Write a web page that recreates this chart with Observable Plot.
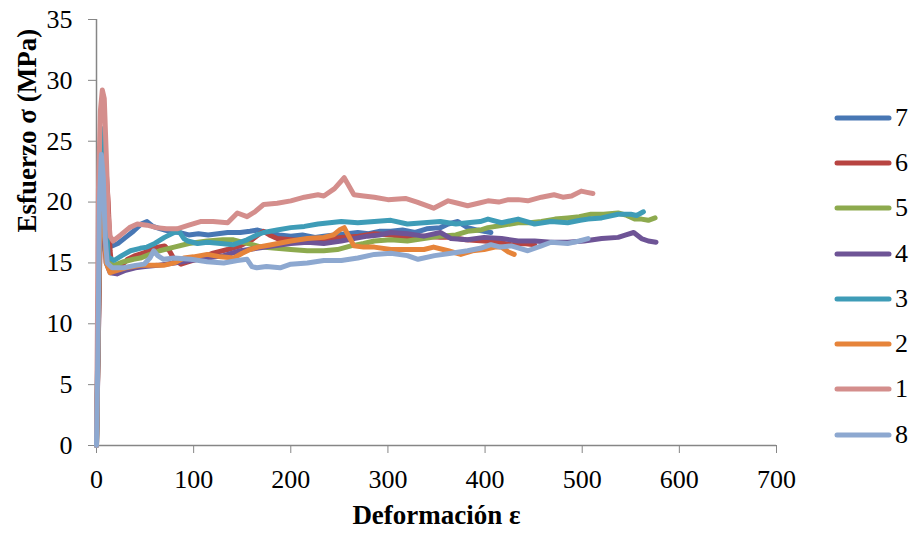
<!DOCTYPE html>
<html>
<head>
<meta charset="utf-8">
<script src="https://cdn.jsdelivr.net/npm/d3@7"></script>
<script src="https://cdn.jsdelivr.net/npm/@observablehq/plot@0.6"></script>
<style>
  html, body { margin: 0; padding: 0; background: #fff; }
  #wrap { position: relative; width: 911px; height: 533px; font-family: "Liberation Serif", "Times New Roman", serif; }
  #legend { position: absolute; left: 834px; top: 95px; }
  .row { display: flex; align-items: center; height: 45.3px; }
  .row span { font-size: 26px; line-height: 26px; margin-left: 3px; color: #000; }
</style>
</head>
<body>
<div id="wrap"><div id="legend"></div></div>
<script>
// ---- data ----
const seriesNames = ["7", "6", "5", "4", "3", "2", "1", "8"];
const seriesColors = ["#4877B4", "#B84441", "#8DAA4E", "#6E5496", "#3E9CB7", "#E6843A", "#D48E8C", "#8DA8D0"];
const xTicks = [0, 100, 200, 300, 400, 500, 600, 700];
const yTicks = [0, 5, 10, 15, 20, 25, 30, 35];
const xTitle = "Deformación ε";
const yTitle = "Esfuerzo σ (MPa)";

const x7 = [0, 2, 4, 6, 9, 12, 16, 22, 30, 38, 46, 52, 58, 66, 75, 85, 95, 105, 115, 125, 135, 148, 158, 166, 175, 188, 200, 212, 225, 234, 245, 258, 269, 280, 292, 303, 315, 328, 340, 354, 362, 372, 382, 392, 399, 406];
const y7 = [0, 12, 22, 26, 21, 17.5, 16.4, 16.6, 17.1, 17.6, 18.2, 18.4, 18.0, 17.8, 17.6, 17.5, 17.3, 17.4, 17.3, 17.4, 17.5, 17.5, 17.6, 17.7, 17.5, 17.3, 17.2, 17.3, 17.1, 17.2, 17.3, 17.4, 17.5, 17.4, 17.6, 17.6, 17.7, 17.5, 17.8, 17.9, 18.2, 18.4, 17.9, 17.7, 17.6, 17.5];

const x6 = [0, 3, 6, 9, 12, 14, 16, 20, 26, 32, 40, 48, 56, 63, 70, 75, 80, 87, 95, 107, 120, 135, 148, 160, 168, 172, 178, 186, 200, 217, 234, 252, 270, 286, 303, 320, 337, 354, 365, 380, 399, 413, 427, 440, 451];
const y6 = [0, 14, 23.5, 23.8, 20, 16, 14.4, 14.3, 14.8, 15.3, 15.6, 15.8, 16.1, 16.3, 16.4, 16.0, 15.3, 14.9, 15.1, 15.4, 15.8, 16.1, 16.4, 16.9, 17.4, 17.6, 17.3, 17.0, 16.9, 16.8, 16.9, 17.1, 17.2, 17.4, 17.3, 17.1, 17.2, 17.1, 17.1, 16.9, 16.8, 16.7, 16.5, 16.6, 16.5];

const x5 = [0, 2, 4, 6, 9, 12, 18, 28, 38, 45, 55, 65, 80, 95, 114, 130, 141, 155, 170, 185, 200, 217, 234, 248, 262, 275, 286, 303, 320, 337, 354, 370, 382, 395, 403, 418, 434, 446, 458, 472, 485, 497, 509, 522, 537, 546, 554, 561, 568, 575];
const y5 = [0, 10, 21, 20, 16, 15.0, 14.8, 15.1, 15.3, 15.4, 15.7, 16.0, 16.3, 16.6, 16.8, 16.9, 16.9, 16.6, 16.3, 16.2, 16.1, 16.0, 16.0, 16.1, 16.4, 16.6, 16.8, 16.9, 16.8, 17.0, 17.2, 17.3, 17.6, 17.7, 17.9, 18.1, 18.3, 18.3, 18.4, 18.6, 18.7, 18.8, 19.0, 19.0, 19.1, 18.9, 18.6, 18.6, 18.5, 18.7];

const x4 = [0, 2, 4, 7, 10, 14, 21, 30, 40, 50, 63, 80, 97, 114, 131, 148, 165, 183, 200, 217, 234, 252, 265, 279, 291, 303, 320, 337, 354, 365, 382, 399, 417, 434, 451, 468, 485, 502, 520, 537, 545, 553, 561, 568, 576];
const y4 = [0, 9, 20, 18, 15, 14.2, 14.1, 14.4, 14.6, 14.7, 14.8, 15.0, 15.2, 15.4, 15.6, 16.0, 16.2, 16.4, 16.6, 16.7, 16.6, 16.8, 17.0, 17.2, 17.3, 17.5, 17.4, 17.2, 17.5, 17.0, 16.9, 17.1, 17.0, 16.8, 16.8, 16.7, 16.7, 16.8, 17.0, 17.1, 17.3, 17.5, 17.0, 16.8, 16.7];

const x3 = [0, 2, 4, 6, 9, 12, 18, 26, 35, 45, 52, 60, 70, 80, 85, 90, 94, 104, 114, 128, 141, 155, 165, 172, 186, 200, 214, 228, 240, 252, 269, 286, 303, 320, 337, 354, 370, 382, 395, 403, 417, 434, 451, 468, 485, 498, 506, 520, 537, 550, 556, 563];
const y3 = [0, 12, 24, 26, 20, 15.5, 15.2, 15.6, 16.0, 16.2, 16.3, 16.6, 17.1, 17.5, 17.6, 17.0, 16.8, 16.6, 16.7, 16.6, 16.5, 16.9, 17.3, 17.5, 17.7, 17.9, 18.0, 18.2, 18.3, 18.4, 18.3, 18.4, 18.5, 18.2, 18.3, 18.4, 18.2, 18.3, 18.4, 18.6, 18.3, 18.6, 18.2, 18.4, 18.3, 18.5, 18.6, 18.7, 19.0, 19.0, 18.9, 19.2];

const x2 = [0, 2, 4, 7, 10, 14, 18, 30, 45, 58, 69, 80, 90, 100, 114, 128, 141, 150, 158, 166, 180, 200, 217, 234, 244, 250, 255, 259, 265, 275, 286, 303, 320, 337, 347, 362, 375, 387, 399, 410, 417, 424, 430];
const y2 = [0, 10, 22, 19, 15, 14.2, 14.3, 14.6, 14.8, 14.8, 14.8, 15.0, 15.4, 15.5, 15.7, 15.5, 15.4, 15.8, 16.1, 16.3, 16.5, 16.8, 17.0, 17.1, 17.3, 17.7, 17.9, 17.3, 16.4, 16.3, 16.3, 16.1, 16.1, 16.1, 16.3, 16.0, 15.7, 16.0, 16.1, 16.3, 16.3, 15.9, 15.7];

const x1 = [0, 2, 4, 6, 8, 10, 12, 14, 17, 25, 34, 42, 52, 62, 72, 83, 95, 107, 120, 135, 145, 155, 163, 172, 186, 200, 214, 228, 234, 245, 255, 260, 265, 275, 286, 300, 318, 330, 347, 362, 372, 382, 393, 403, 414, 424, 434, 444, 458, 471, 480, 489, 499, 505, 511];
const y1 = [0, 21, 27.5, 29.2, 28.5, 24, 19, 17.2, 16.8, 17.3, 17.9, 18.2, 18.1, 17.9, 17.8, 17.8, 18.1, 18.4, 18.4, 18.3, 19.1, 18.8, 19.2, 19.8, 19.9, 20.1, 20.4, 20.6, 20.5, 21.1, 22.0, 21.3, 20.6, 20.5, 20.4, 20.2, 20.3, 20.0, 19.5, 20.1, 19.9, 19.7, 19.9, 20.1, 20.0, 20.2, 20.2, 20.1, 20.4, 20.6, 20.4, 20.5, 20.9, 20.8, 20.7];

const x8 = [0, 1.5, 3, 5, 7, 9, 11, 16, 28, 40, 49, 55, 59, 63, 69, 80, 97, 114, 131, 145, 155, 160, 165, 175, 189, 200, 217, 234, 252, 269, 286, 303, 320, 331, 348, 365, 382, 395, 406, 416, 427, 444, 458, 468, 485, 497, 506];
const y8 = [0, 8, 20, 23.9, 22, 17, 15.0, 14.6, 14.6, 14.8, 14.9, 15.4, 16.0, 15.6, 15.3, 15.4, 15.3, 15.1, 15.0, 15.2, 15.3, 14.7, 14.6, 14.7, 14.6, 14.9, 15.0, 15.2, 15.2, 15.4, 15.7, 15.8, 15.6, 15.3, 15.6, 15.8, 16.0, 16.2, 16.5, 16.3, 16.4, 16.0, 16.4, 16.7, 16.6, 16.8, 17.0];

const xs = [x7, x6, x5, x4, x3, x2, x1, x8];
const ys = [y7, y6, y5, y4, y3, y2, y1, y8];

// ---- build table ----
const rows = [];
seriesNames.forEach((s, i) => {
  xs[i].forEach((xv, j) => rows.push({s, x: xv, y: ys[i][j]}));
});

const FONT = '"Liberation Serif", "Times New Roman", serif';
const AXIS = "#868686";

const chart = Plot.plot({
  width: 911,
  height: 533,
  marginLeft: 96,
  marginRight: 135,
  marginTop: 19,
  marginBottom: 88,
  style: {fontFamily: FONT, fontSize: "26px", color: "black", background: "white", overflow: "visible"},
  x: {domain: [0, 700]},
  y: {domain: [0, 35]},
  color: {domain: seriesNames, range: seriesColors},
  marks: [
    Plot.axisX({ticks: xTicks, tickSize: 8, tickPadding: 16, stroke: AXIS, fill: "black", fontSize: 26, label: null, tickFormat: d => String(d)}),
    Plot.axisY({ticks: yTicks, tickSize: 8, tickPadding: 16, stroke: AXIS, fill: "black", fontSize: 26, label: null, tickFormat: d => String(d)}),
    Plot.ruleY([0], {stroke: AXIS, strokeWidth: 1.5}),
    Plot.ruleX([0], {stroke: AXIS, strokeWidth: 1.5}),
    Plot.line(rows, {x: "x", y: "y", z: "s", stroke: "s", strokeWidth: 5, strokeLinejoin: "round", strokeLinecap: "round"}),
    Plot.text([xTitle], {text: d => d, frameAnchor: "bottom", dy: 78, fontWeight: "bold", fontSize: 27, fill: "black"}),
    Plot.text([yTitle], {text: d => d, frameAnchor: "left", dx: -69, rotate: -90, fontWeight: "bold", fontSize: 27, fill: "black"})
  ]
});
document.getElementById("wrap").prepend(chart);

// ---- legend ----
const legend = d3.select("#legend");
seriesNames.forEach((s, i) => {
  const row = legend.append("div").attr("class", "row");
  const sv = row.append("svg").attr("width", 58).attr("height", 10);
  sv.append("line").attr("x1", 3).attr("x2", 55).attr("y1", 5).attr("y2", 5)
    .attr("stroke", seriesColors[i]).attr("stroke-width", 5).attr("stroke-linecap", "round");
  row.append("span").text(s);
});
</script>
</body>
</html>
